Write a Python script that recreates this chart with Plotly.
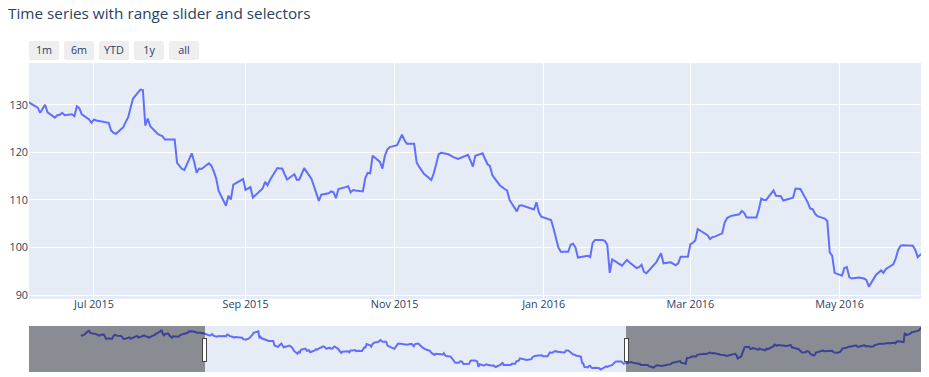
import plotly.graph_objects as go

# AAPL daily highs, one row per month
months = ["2015-02", "2015-03", "2015-04", "2015-05", "2015-06", "2015-07", "2015-08",
          "2015-09", "2015-10", "2015-11", "2015-12", "2016-01", "2016-02", "2016-03",
          "2016-04", "2016-05", "2016-06", "2016-07", "2016-08", "2016-09", "2016-10",
          "2016-11", "2016-12", "2017-01", "2017-02"]

trading_days = [
    [17, 18, 19, 20, 23, 24, 25, 26, 27],
    [2, 3, 4, 5, 6, 9, 10, 11, 12, 13, 16, 17, 18, 19, 20, 23, 24, 25, 26, 27, 30, 31],
    [1, 2, 6, 7, 8, 9, 10, 13, 14, 15, 16, 17, 20, 21, 22, 23, 24, 27, 28, 29, 30],
    [1, 4, 5, 6, 7, 8, 11, 12, 13, 14, 15, 18, 19, 20, 21, 22, 26, 27, 28, 29],
    [1, 2, 3, 4, 5, 8, 9, 10, 11, 12, 15, 16, 17, 18, 19, 22, 23, 24, 25, 26, 29, 30],
    [1, 2, 6, 7, 8, 9, 10, 13, 14, 15, 16, 17, 20, 21, 22, 23, 24, 27, 28, 29, 30, 31],
    [3, 4, 5, 6, 7, 10, 11, 12, 13, 14, 17, 18, 19, 20, 21, 24, 25, 26, 27, 28, 31],
    [1, 2, 3, 4, 8, 9, 10, 11, 14, 15, 16, 17, 18, 21, 22, 23, 24, 25, 28, 29, 30],
    [1, 2, 5, 6, 7, 8, 9, 12, 13, 14, 15, 16, 19, 20, 21, 22, 23, 26, 27, 28, 29, 30],
    [2, 3, 4, 5, 6, 9, 10, 11, 12, 13, 16, 17, 18, 19, 20, 23, 24, 25, 27, 30],
    [1, 2, 3, 4, 7, 8, 9, 10, 11, 14, 15, 16, 17, 18, 21, 22, 23, 24, 28, 29, 30, 31],
    [4, 5, 6, 7, 8, 11, 12, 13, 14, 15, 19, 20, 21, 22, 25, 26, 27, 28, 29],
    [1, 2, 3, 4, 5, 8, 9, 10, 11, 12, 16, 17, 18, 19, 22, 23, 24, 25, 26, 29],
    [1, 2, 3, 4, 7, 8, 9, 10, 11, 14, 15, 16, 17, 18, 21, 22, 23, 24, 28, 29, 30, 31],
    [1, 4, 5, 6, 7, 8, 11, 12, 13, 14, 15, 18, 19, 20, 21, 22, 25, 26, 27, 28, 29],
    [2, 3, 4, 5, 6, 9, 10, 11, 12, 13, 16, 17, 18, 19, 20, 23, 24, 25, 26, 27, 31],
    [1, 2, 3, 6, 7, 8, 9, 10, 13, 14, 15, 16, 17, 20, 21, 22, 23, 24, 27, 28, 29, 30],
    [1, 5, 6, 7, 8, 11, 12, 13, 14, 15, 18, 19, 20, 21, 22, 25, 26, 27, 28, 29],
    [1, 2, 3, 4, 5, 8, 9, 10, 11, 12, 15, 16, 17, 18, 19, 22, 23, 24, 25, 26, 29, 30, 31],
    [1, 2, 6, 7, 8, 9, 12, 13, 14, 15, 16, 19, 20, 21, 22, 23, 26, 27, 28, 29, 30],
    [3, 4, 5, 6, 7, 10, 11, 12, 13, 14, 17, 18, 19, 20, 21, 24, 25, 26, 27, 28, 31],
    [1, 2, 3, 4, 7, 8, 9, 10, 11, 14, 15, 16, 17, 18, 21, 22, 23, 25, 28, 29, 30],
    [1, 2, 5, 6, 7, 8, 9, 12, 13, 14, 15, 16, 19, 20, 21, 22, 23, 27, 28, 29, 30],
    [3, 4, 5, 6, 9, 10, 11, 12, 13, 17, 18, 19, 20, 23, 24, 25, 26, 27, 30, 31],
    [1, 2, 3, 6, 7, 8, 9, 10, 13, 14, 15, 16],
]

aapl_high = [
    [128.9, 128.3, 129.0, 129.5, 133.0, 133.6, 131.6, 130.9, 130.6],
    [130.3, 129.5, 129.6, 128.3, 129.4, 129.6, 127.2, 124.8, 124.9, 125.4, 125.0, 127.3, 129.2, 129.3, 128.4, 127.9, 128.0, 126.8, 124.9, 124.7, 126.4, 126.5],
    [125.1, 125.6, 127.5, 128.1, 126.4, 126.6, 127.2, 128.6, 127.3, 127.1, 127.1, 126.1, 128.1, 128.2, 128.9, 130.4, 130.6, 133.1, 134.5, 130.5, 128.6],
    [130.1, 130.6, 128.5, 126.8, 126.1, 127.6, 127.6, 126.9, 127.2, 129.0, 129.5, 130.7, 130.9, 131.0, 131.6, 133.0, 132.9, 132.3, 132.0, 131.5],
    [131.4, 130.7, 130.9, 130.6, 130.2, 129.4, 128.3, 129.3, 130.0, 128.4, 127.3, 127.8, 127.9, 128.3, 127.8, 128.0, 127.6, 129.7, 129.3, 128.0, 126.9, 126.2],
    [126.9, 126.7, 126.4, 126.2, 124.6, 124.1, 123.9, 125.3, 126.4, 127.4, 129.4, 131.3, 133.2, 133.1, 125.6, 127.1, 125.5, 123.9, 123.6, 123.4, 122.7, 122.7],
    [122.7, 117.8, 117.1, 116.5, 116.3, 119.8, 118.0, 115.7, 116.6, 116.5, 117.7, 117.2, 116.0, 114.5, 111.9, 108.8, 110.9, 110.1, 113.2, 113.5, 114.4],
    [112.1, 112.4, 112.7, 110.5, 112.4, 113.8, 113.1, 114.2, 116.7, 116.6, 116.6, 115.4, 114.3, 115.4, 114.2, 114.3, 115.5, 116.7, 114.4, 112.8, 111.4],
    [109.8, 111.1, 111.4, 111.8, 111.6, 110.4, 112.3, 112.7, 112.9, 111.6, 112.1, 112.0, 111.8, 114.6, 115.7, 115.6, 119.3, 118.0, 116.6, 119.3, 120.6, 121.1],
    [121.5, 122.6, 123.7, 122.6, 121.8, 121.8, 117.9, 117.0, 116.3, 115.5, 114.2, 115.6, 117.5, 119.6, 119.9, 119.6, 119.3, 119.0, 118.6, 119.3],
    [119.5, 118.3, 117.0, 119.3, 119.8, 118.6, 117.5, 117.1, 115.2, 113.1, 112.6, 112.3, 112.0, 110.0, 107.6, 108.8, 108.9, 108.7, 108.0, 109.5, 107.4, 106.5],
    [105.8, 104.0, 102.0, 100.0, 99.1, 99.1, 100.6, 100.8, 100.0, 97.9, 98.3, 98.0, 101.0, 101.6, 101.6, 101.4, 100.6, 94.7, 97.5],
    [96.5, 96.2, 96.8, 97.4, 96.9, 95.7, 95.9, 96.4, 94.9, 94.6, 96.9, 98.0, 98.8, 96.7, 96.9, 96.6, 96.3, 96.7, 98.1, 98.1],
    [100.7, 101.0, 101.5, 103.9, 102.8, 102.6, 101.8, 102.2, 102.3, 103.0, 105.2, 106.2, 106.5, 106.7, 107.0, 107.7, 107.3, 106.3, 106.3, 108.0, 110.3, 110.0],
    [110.0, 112.0, 110.9, 110.9, 110.8, 109.9, 110.3, 110.5, 112.4, 112.4, 112.3, 109.5, 108.2, 108.1, 107.1, 106.6, 106.1, 105.6, 99.0, 98.3, 94.7],
    [94.1, 95.7, 95.9, 93.8, 93.5, 93.7, 93.6, 93.5, 93.2, 91.8, 94.3, 94.7, 95.2, 94.7, 95.5, 96.5, 97.7, 99.5, 100.4, 100.5, 100.4],
    [99.5, 98.0, 98.5, 99.2, 99.8, 99.6, 99.9, 99.3, 98.5, 98.0, 97.7, 97.9, 96.7, 96.4, 96.6, 96.9, 96.7, 95.5, 93.7, 94.0, 95.0, 96.0],
    [96.5, 95.7, 95.9, 96.5, 96.9, 97.7, 97.7, 97.7, 99.0, 99.3, 100.1, 100.0, 100.5, 101.0, 99.3, 98.8, 98.0, 104.4, 104.5, 104.6],
    [106.2, 106.1, 105.8, 106.0, 107.7, 108.4, 108.9, 108.9, 108.9, 108.4, 109.7, 110.2, 109.4, 109.6, 109.7, 108.9, 108.9, 108.3, 107.8, 107.9, 107.4, 106.5, 106.8],
    [107.0, 107.3, 107.9, 108.8, 107.3, 104.0, 105.7, 108.8, 113.0, 115.7, 116.1, 116.2, 114.1, 114.0, 114.9, 114.8, 113.4, 113.2, 114.6, 113.8, 113.4],
    [112.6, 114.5, 113.7, 114.3, 114.6, 116.8, 118.7, 118.0, 117.4, 118.2, 117.8, 118.2, 117.8, 117.4, 116.9, 117.7, 118.4, 115.7, 115.9, 115.2, 114.2],
    [113.8, 112.4, 111.5, 110.3, 110.5, 111.7, 111.3, 111.1, 108.9, 106.9, 107.7, 110.2, 110.4, 110.9, 112.0, 112.4, 111.5, 111.9, 112.5, 112.0, 112.2],
    [110.9, 110.1, 110.0, 110.4, 111.2, 112.4, 114.7, 115.0, 115.9, 116.2, 116.7, 116.5, 117.4, 117.5, 117.8, 116.5, 116.5, 117.8, 118.0, 117.1, 117.2],
    [116.3, 116.5, 116.9, 118.2, 119.4, 119.4, 119.9, 119.3, 119.6, 120.2, 120.5, 120.1, 120.5, 120.8, 120.1, 122.1, 122.4, 122.4, 121.6, 121.4],
    [130.5, 129.4, 129.2, 130.5, 132.1, 132.2, 132.5, 132.9, 133.8, 135.1, 136.3, 135.9],
]

button_labels = ["1m", "6m", "YTD", "1y", "all"]

dates, values = [], []
for m, ds, vs in zip(months, trading_days, aapl_high):
    assert len(ds) == len(vs), m
    dates += [f"{m}-{d:02d}" for d in ds]
    values += vs

fig = go.Figure(go.Scatter(x=dates, y=values, mode="lines", line=dict(color="#636efa", width=2)))

# the page places the figure 8px from the top-left corner of the window
fig.update_layout(
    width=921, height=369,
    template="plotly",
    font=dict(size=10.8),
    title=dict(text="Time series with range slider and selectors", x=0, xanchor="left",
               y=1 - 6 / 369, yanchor="middle", font=dict(size=15.3)),
    margin=dict(l=21, r=7, t=55, b=5),
    showlegend=False,
    xaxis=dict(
        type="date",
        range=["2015-06-04 10:00", "2016-06-03 18:00"],
        ticklabelstandoff=-3,
        rangeselector=dict(y=1.0094, yanchor="bottom", buttons=[
            dict(count=1, label=button_labels[0], step="month", stepmode="backward"),
            dict(count=6, label=button_labels[1], step="month", stepmode="backward"),
            dict(count=1, label=button_labels[2], step="year", stepmode="todate"),
            dict(count=1, label=button_labels[3], step="year", stepmode="backward"),
            dict(step="all", label=button_labels[4]),
        ]),
        rangeslider=dict(visible=True, thickness=0.149, range=["2015-01-03", "2017-02-16"]),
    ),
    yaxis=dict(range=[89.2, 138.77], dtick=10, automargin=False),
)

fig.write_html("out.html")
